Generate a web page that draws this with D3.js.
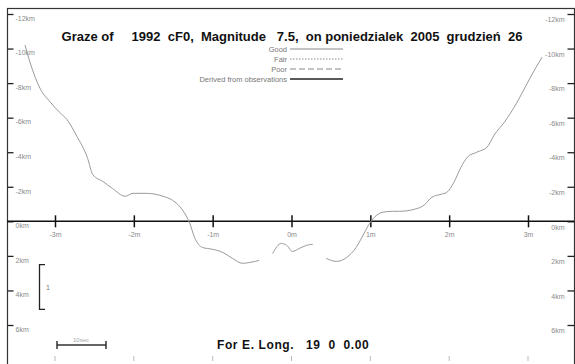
<!DOCTYPE html>
<html>
<head>
<meta charset="utf-8">
<script src="https://cdn.jsdelivr.net/npm/d3@7"></script>
<style>
    body { margin: 0; background: #fff; }
    svg { display: block; font-family: 'Liberation Sans', Arial, sans-serif; }
</style>
</head>
<body>
<div id="chart"></div>
<script>
// Profile limb points: along-track offset (m) and limb height (km), null = gap
const profileM = [-3.38, -3.31, -3.19, -3.06, -2.94, -2.85, -2.72, -2.59, -2.52, -2.39, -2.27, -2.11, -2.01, -1.84, -1.63, -1.51, -1.38, -1.29, -1.23, -1.13, -1.0, -0.87, -0.75, -0.62, -0.53, -0.41, null, -0.24, -0.13, -0.06, 0.01, 0.10, 0.19, 0.27, null, 0.44, 0.57, 0.70, 0.82, 0.92, 0.99, 1.08, 1.15, 1.28, 1.37, 1.56, 1.68, 1.78, 1.90, 1.97, 2.06, 2.15, 2.23, 2.35, 2.48, 2.57, 2.70, 2.85, 2.98, 3.10, 3.18]
const profileKm = [-10.2, -9.1, -7.7, -6.9, -6.3, -5.9, -4.9, -3.7, -2.7, -2.3, -1.9, -1.45, -1.62, -1.62, -1.45, -1.22, -0.64, 0.12, 0.93, 1.51, 1.62, 1.80, 2.14, 2.43, 2.38, 2.26, null, 1.86, 1.28, 1.39, 1.74, 1.57, 1.39, 1.33, null, 2.14, 2.32, 2.09, 1.51, 0.70, 0.12, -0.35, -0.52, -0.58, -0.58, -0.70, -0.93, -1.39, -1.57, -1.68, -2.26, -3.13, -3.71, -4.0, -4.29, -4.99, -5.74, -6.8, -7.9, -8.9, -9.5]

const xTicks = [-3, -2, -1, 0, 1, 2, 3]
const xTickLabels = ['-3m', '-2m', '-1m', '0m', '1m', '2m', '3m']
const yTicks = [-12, -10, -8, -6, -4, -2, 0, 2, 4, 6]
const yTickLabels = ['-12km', '-10km', '-8km', '-6km', '-4km', '-2km', '0km', '2km', '4km', '6km']

const legendNames = ['Good', 'Fair', 'Poor', 'Derived from observations']
const legendDash = [null, '1.5,1.5', '6,3', null]

const titleText = 'Graze of     1992  cF0,  Magnitude   7.5,  on poniedzialek  2005  grudzień  26'
const longText = 'For E. Long.   19  0  0.00'

const width = 575
const height = 364

const svg = d3.select('#chart')
    .append('svg')
    .attr('width', width)
    .attr('height', height)

const x = d3.scaleLinear().domain([-3, 3]).range([55, 528])
const y = d3.scaleLinear().domain([-12, 6]).range([14, 325])

// frame
svg.append('rect')
    .attr('x', 7.5).attr('y', 8.5)
    .attr('width', 567).attr('height', 360)
    .attr('fill', 'none')
    .attr('stroke', '#333')
    .attr('stroke-width', 1.2)

// left km axis, labels inside
const leftAxis = svg.append('g')
    .attr('transform', 'translate(7.5,0)')
    .call(d3.axisRight(y).tickValues(yTicks).tickSize(6).tickPadding(2)
        .tickFormat((d, i) => yTickLabels[i]))
leftAxis.select('.domain').remove()
leftAxis.selectAll('line').attr('stroke', '#222').attr('stroke-width', 1.3)
leftAxis.selectAll('text').attr('dy', '0.9em').attr('fill', '#8a8a8a').style('font-size', '7px')

// right km axis
const rightAxis = svg.append('g')
    .attr('transform', 'translate(574.5,0)')
    .call(d3.axisLeft(y).tickValues(yTicks).tickSize(7).tickPadding(3)
        .tickFormat((d, i) => yTickLabels[i]))
rightAxis.select('.domain').remove()
rightAxis.selectAll('line').attr('stroke', '#222').attr('stroke-width', 1.3)
rightAxis.selectAll('text').attr('dy', '1.1em').attr('fill', '#8a8a8a').style('font-size', '7px')

// zero line with crossing ticks
svg.append('line')
    .attr('x1', 7).attr('x2', 574)
    .attr('y1', y(0)).attr('y2', y(0))
    .attr('stroke', '#111').attr('stroke-width', 1.5)

const xAxis = svg.append('g')
    .attr('transform', `translate(0,${y(0)})`)
    .call(d3.axisBottom(x).tickValues(xTicks).tickSize(6).tickPadding(5)
        .tickFormat((d, i) => xTickLabels[i]))
xAxis.select('.domain').remove()
xAxis.selectAll('line').attr('y1', -6).attr('stroke', '#111').attr('stroke-width', 1.5)
xAxis.selectAll('text').attr('fill', '#8a8a8a').style('font-size', '7px')

// small ticks along the bottom
svg.append('g').selectAll('line')
    .data(xTicks)
    .join('line')
    .attr('x1', d => x(d)).attr('x2', d => x(d))
    .attr('y1', 356).attr('y2', 361)
    .attr('stroke', '#bbb')

// limb profile
const line = d3.line()
    .defined((d, i) => profileM[i] !== null)
    .x((d, i) => x(profileM[i]))
    .y((d, i) => y(profileKm[i]))
    .curve(d3.curveMonotoneX)

svg.append('path')
    .attr('d', line(profileM))
    .attr('fill', 'none')
    .attr('stroke', '#9a9a9a')
    .attr('stroke-width', 1)

// title
svg.append('text')
    .attr('x', 292).attr('y', 41)
    .attr('text-anchor', 'middle')
    .style('white-space', 'pre')
    .attr('xml:space', 'preserve')
    .style('font-size', '13px')
    .style('font-weight', 'bold')
    .attr('fill', '#111')
    .text(titleText)

// legend
const legend = svg.append('g')
legendNames.forEach((name, i) => {
    const ly = 49 + i * 10
    legend.append('text')
        .attr('x', 287).attr('y', ly + 2.5)
        .attr('text-anchor', 'end')
        .attr('fill', '#777')
        .style('font-size', '7.5px')
        .text(name)
    legend.append('line')
        .attr('x1', 290).attr('x2', 343)
        .attr('y1', ly).attr('y2', ly)
        .attr('stroke', i === 3 ? '#222' : '#888')
        .attr('stroke-width', i === 3 ? 1.5 : 1)
        .attr('stroke-dasharray', legendDash[i])
})

// vertical 1 km bracket
const bracket = svg.append('g')
bracket.append('path')
    .attr('d', `M45,${y(2.5)}H39.5V${y(5.1)}H45`)
    .attr('fill', 'none')
    .attr('stroke', '#222')
    .attr('stroke-width', 1.3)
bracket.append('text')
    .attr('x', 46).attr('y', y(3.8) + 3)
    .attr('fill', '#777')
    .style('font-size', '7px')
    .text('1')

// time scale bar
svg.append('path')
    .attr('d', 'M57,341V349M57,345H106M106,341V349')
    .attr('fill', 'none')
    .attr('stroke', '#333')
    .attr('stroke-width', 1.5)
svg.append('text')
    .attr('x', 81).attr('y', 342)
    .attr('text-anchor', 'middle')
    .attr('fill', '#aaa')
    .style('font-size', '6px')
    .text('10sec')

// longitude note
svg.append('text')
    .attr('x', 217).attr('y', 349)
    .style('white-space', 'pre')
    .attr('xml:space', 'preserve')
    .style('font-size', '12px')
    .style('font-weight', 'bold')
    .style('letter-spacing', '0.6px')
    .attr('fill', '#111')
    .text(longText)
</script>
</body>
</html>
